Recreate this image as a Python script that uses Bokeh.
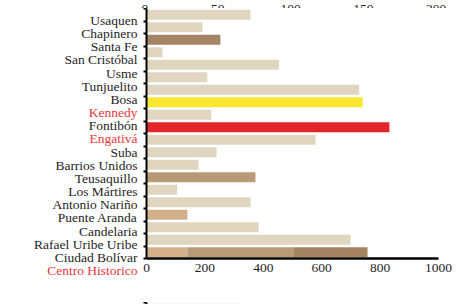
from bokeh.plotting import figure
from bokeh.layouts import row, column
from bokeh.models import Range1d, LinearAxis, FixedTicker, ColumnDataSource
from bokeh.core.properties import value
from bokeh.embed import file_html
from bokeh.resources import INLINE

# ---- data ----
labels = ["Usaquen", "Chapinero", "Santa Fe", "San Cristóbal", "Usme", "Tunjuelito",
          "Bosa", "Kennedy", "Fontibón", "Engativá", "Suba", "Barrios Unidos",
          "Teusaquillo", "Los Mártires", "Antonio Nariño", "Puente Aranda",
          "Candelaria", "Rafael Uribe Uribe", "Ciudad Bolívar", "Centro Historico"]
label_colors = ["#1e1e1e"] * 7 + ["#e8383d", "#1e1e1e", "#e8383d"] + ["#1e1e1e"] * 9 + ["#e8383d"]

bar_values = [356, 191, 253, 55, 454, 208, 728, 740, 222, 832,
              579, 240, 178, 373, 105, 356, 140, 384, 699]
bar_colors = ["#e0d6c0", "#e0d6c0", "#a58463", "#e0d6c0", "#e0d6c0", "#e0d6c0",
              "#e0d6c0", "#f8e831", "#e0d6c0", "#e42528", "#e0d6c0", "#e0d6c0",
              "#e0d6c0", "#b99a77", "#e0d6c0", "#e0d6c0", "#d4b08a", "#e0d6c0",
              "#e0d6c0"]
stack_values = [140, 365, 252]
stack_colors = ["#d4b08a", "#b99a77", "#a58463"]

x_ticks = [0, 200, 400, 600, 800, 1000]
top_ticks = [0, 50, 100, 150, 200]

next_chart_values = [320]
next_chart_colors = ["#e0d6c0"]

FONT = "Liberation Serif"
FS = "13.5px"
TXT = "#1e1e1e"


def bare(fig):
    fig.grid.visible = False
    fig.outline_line_color = None
    return fig


def left_ticks_axis(n):
    ax = LinearAxis(ticker=FixedTicker(ticks=[], minor_ticks=[i - 0.5 for i in range(n + 1)]))
    ax.axis_line_color = "black"
    ax.axis_line_width = 2
    ax.major_tick_out = 0
    ax.major_tick_in = 0
    ax.minor_tick_out = 3
    ax.minor_tick_in = 0
    ax.minor_tick_line_width = 2
    ax.minor_tick_line_color = "black"
    ax.major_label_standoff = 0
    return ax


COMMON = dict(output_backend="svg", toolbar_location=None, frame_align=False,
              x_axis_type=None, y_axis_type=None)

# ---- strip with the (cropped) upper scale labels ----
pc = bare(figure(width=464, height=8, x_range=Range1d(-99.2, 219.4), y_range=Range1d(-1, 1),
                 min_border=0, **COMMON))
pc.text(x=top_ticks, y=[0] * len(top_ticks), text=[str(t) for t in top_ticks],
        text_align="center", text_baseline="alphabetic", text_color=TXT,
        text_font=value(FONT), text_font_size=FS)

# ---- labels panel ----
pa = bare(figure(width=140, height=289, x_range=Range1d(0, 1), y_range=Range1d(21.05, -0.912),
                 min_border=0, **COMMON))
pa.text(x=[1] * len(labels), y=list(range(len(labels))), text=labels,
        text_color=label_colors, text_align="right", text_baseline="middle",
        text_font=value(FONT), text_font_size=FS, x_offset=-3)

# ---- bars panel ----
n = len(bar_values) + 1
pb = bare(figure(width=324, height=289, x_range=Range1d(0, 1000), y_range=Range1d(n - 0.5, -0.5),
                 min_border_left=6, min_border_right=26, min_border_top=0,
                 min_border_bottom=39, **COMMON))

src = ColumnDataSource(dict(y=list(range(len(bar_values))), right=bar_values, color=bar_colors))
pb.hbar(y="y", left=0, right="right", height=0.8, color="color", line_color=None, source=src)

left = 0
for v, c in zip(stack_values, stack_colors):
    pb.hbar(y=[n - 1], left=[left], right=[left + v], height=0.8, color=c, line_color=None)
    left += v

xa = LinearAxis(ticker=FixedTicker(ticks=x_ticks))
xa.axis_line_color = "black"
xa.axis_line_width = 2.5
xa.major_tick_out = 0
xa.major_tick_in = 0
xa.minor_tick_out = 0
xa.minor_tick_in = 0
xa.major_label_standoff = 5
xa.major_label_text_font = FONT
xa.major_label_text_font_size = FS
xa.major_label_text_color = TXT
pb.add_layout(xa, "below")
pb.add_layout(left_ticks_axis(n), "left")

# ---- top of the next chart (cropped) ----
pd_ = bare(figure(width=464, height=7, x_range=Range1d(0, 1000), y_range=Range1d(0.057, -0.5),
                  min_border_left=146, min_border_right=26, min_border_top=0,
                  min_border_bottom=0, **COMMON))
pd_.hbar(y=list(range(len(next_chart_values))), left=0, right=next_chart_values,
         height=0.8, color=next_chart_colors, line_color=None)
pd_.add_layout(left_ticks_axis(len(next_chart_values)), "left")

layout = column(pc, row(pa, pb), pd_)
open("out.html", "w").write(file_html(layout, INLINE))
